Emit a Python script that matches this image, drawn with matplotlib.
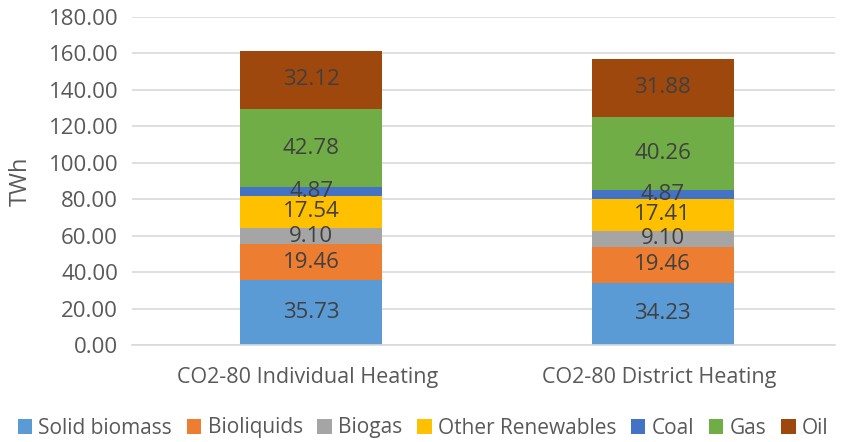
import numpy as np
import matplotlib.pyplot as plt

# dados do gráfico
cenarios = ['CO2-80 Individual Heating', 'CO2-80 District Heating']
fontes = ['Solid biomass', 'Bioliquids', 'Biogas', 'Other Renewables', 'Coal', 'Gas', 'Oil']
individual = [35.73, 19.46, 9.10, 17.54, 4.87, 42.78, 32.12]
distrital = [34.23, 19.46, 9.10, 17.41, 4.87, 40.26, 31.88]
cores = ['#5B9BD5', '#ED7D31', '#A5A5A5', '#FFC000', '#4472C4', '#70AD47', '#9E480E']

plt.rcParams['font.family'] = ['Open Sans', 'DejaVu Sans']

fig = plt.figure(figsize=(8.41, 4.42), dpi=100)
ax = fig.add_axes([132 / 841, 97 / 442, 703 / 841, 328 / 442])

valores = np.array([individual, distrital]).T
x = np.arange(len(cenarios))
base = np.zeros(len(cenarios))
for fonte, linha, cor in zip(fontes, valores, cores):
    barras = ax.bar(x + 0.01, linha, bottom=base, width=0.405, color=cor, label=fonte, zorder=2)
    ax.bar_label(barras, labels=['{:.2f}'.format(v) for v in linha], label_type='center',
                 color='#404040', fontsize=16)
    base += linha

ax.set_xlim(-0.5, 1.5)
ax.set_ylim(0, 180)
ax.set_yticks(np.arange(0, 181, 20))
ax.set_yticklabels(['{:.2f}'.format(v) for v in np.arange(0, 181, 20)])
ax.set_xticks(x)
ax.set_xticklabels(cenarios)
ax.tick_params(axis='y', length=0, labelsize=16, colors='#595959', pad=10)
ax.tick_params(axis='x', length=0, labelsize=15.5, colors='#595959', pad=16)
ax.grid(axis='y', color='#D9D9D9', linewidth=1.2, zorder=0)
for lado in ['top', 'right', 'left']:
    ax.spines[lado].set_visible(False)
ax.spines['bottom'].set_color('#D9D9D9')
ax.spines['bottom'].set_linewidth(1.2)
ax.set_ylabel('TWh', fontsize=17, color='#595959')
ax.yaxis.set_label_coords(-99 / 703, 0.5)

fig.legend(loc='center', bbox_to_anchor=(423 / 841, 14 / 442), ncol=7, frameon=False,
           fontsize=15, handlelength=0.7, handleheight=0.7, handletextpad=0.3,
           columnspacing=0.7, labelcolor='#595959')

plt.savefig('out.png', dpi=100)
